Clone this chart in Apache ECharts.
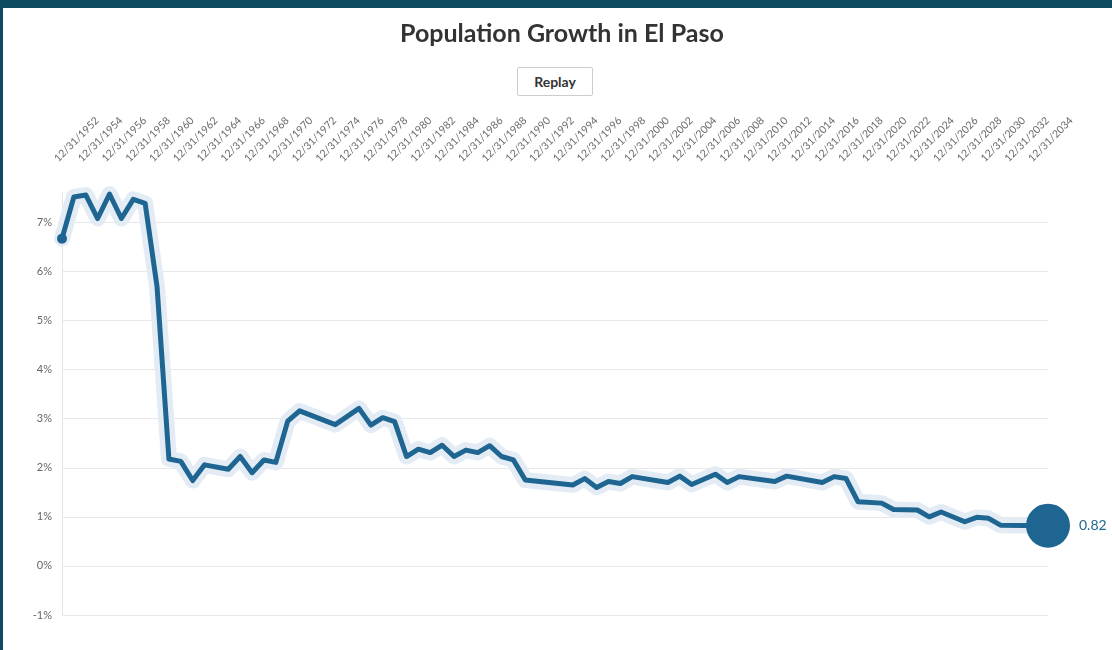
<!DOCTYPE html>
<html>
<head>
<meta charset="utf-8">
<script src="https://cdn.jsdelivr.net/npm/echarts@6/dist/echarts.min.js"></script>
<style>
  html, body { margin: 0; padding: 0; background: #ffffff; }
  #frame { position: absolute; left: 0; top: 0; width: 1112px; height: 650px; background: #fff; }
  #topbar { position: absolute; left: 0; top: 0; width: 1112px; height: 8px; background: #0f4a60; }
  #leftbar { position: absolute; left: 0; top: 0; width: 3px; height: 650px; background: #0f4a60; }
  #chart { position: absolute; left: 0; top: 0; width: 1112px; height: 650px; }
  #replay { position: absolute; left: 517px; top: 67px; width: 76px; height: 29px; box-sizing: border-box;
    border: 1px solid #cccccc; border-radius: 2px; background: #fff; color: #333;
    font-family: Lato, "Open Sans", sans-serif; font-weight: bold; font-size: 14px;
    display: flex; align-items: center; justify-content: center; z-index: 5; }
</style>
</head>
<body>
<div id="frame">
  <div id="chart"></div>
  <div id="topbar"></div>
  <div id="leftbar"></div>
  <div id="replay">Replay</div>
</div>
<script>
// Data (year, population growth %)
const years = [1952,1953,1954,1955,1956,1957,1958,1959,1960,1961,1962,1963,1964,1966,1967,1968,1969,1970,1971,1972,1975,1977,1978,1979,1980,1981,1982,1983,1984,1985,1986,1987,1988,1989,1990,1991,1995,1996,1997,1998,1999,2000,2003,2004,2005,2007,2008,2009,2012,2013,2016,2017,2018,2019,2021,2022,2024,2025,2026,2028,2029,2030,2031,2035];
const growth = [6.67,7.52,7.56,7.08,7.58,7.08,7.47,7.39,5.69,2.18,2.13,1.74,2.06,1.97,2.23,1.90,2.16,2.11,2.95,3.16,2.88,3.21,2.87,3.02,2.94,2.23,2.38,2.31,2.46,2.23,2.36,2.31,2.45,2.23,2.16,1.75,1.65,1.78,1.60,1.72,1.68,1.82,1.70,1.83,1.66,1.87,1.70,1.82,1.72,1.83,1.70,1.82,1.78,1.31,1.28,1.15,1.14,1.00,1.10,0.90,0.99,0.97,0.83,0.82];
const tickYears = [1952,1954,1956,1958,1960,1962,1964,1966,1968,1970,1972,1974,1976,1978,1980,1982,1984,1986,1988,1990,1992,1994,1996,1998,2000,2002,2004,2006,2008,2010,2012,2014,2016,2018,2020,2022,2024,2026,2028,2030,2032,2034];
const yTicks = [-1,0,1,2,3,4,5,6,7];
const titleText = 'Population Growth in El Paso';

const points = years.map((y, i) => [y, growth[i]]);
const lastIdx = points.length - 1;
const lineColor = '#1e6591';
const font = 'Lato, "Open Sans", sans-serif';

const chart = echarts.init(document.getElementById('chart'), null, { renderer: 'canvas' });
chart.setOption({
  animation: false,
  backgroundColor: 'transparent',
  graphic: [{
    type: 'text', left: 400, top: 21,
    style: { text: titleText, fill: '#333333', font: 'bold 25px ' + font }
  }],
  grid: [
    { left: 62, width: 986, top: 193, bottom: 35, containLabel: false },
    { left: 56, width: 986, top: 193, bottom: 35, containLabel: false }
  ],
  xAxis: [
    { type: 'value', gridIndex: 0, min: years[0], max: years[lastIdx], show: false },
    { type: 'value', gridIndex: 1, position: 'top', min: years[0], max: years[lastIdx], interval: 2,
      axisLine: { show: false }, axisTick: { show: false }, splitLine: { show: false },
      axisLabel: { rotate: 45, margin: 33, color: '#6a6a6a', fontSize: 10.5, fontFamily: font,
        formatter: v => tickYears.indexOf(v) >= 0 ? '12/31/' + v : '' } }
  ],
  yAxis: [
    { type: 'value', gridIndex: 0, min: yTicks[0], max: 7.6, interval: 1,
      axisLine: { show: true, lineStyle: { color: '#e3e3e3', width: 1 } },
      axisTick: { show: false },
      axisLabel: { color: '#666666', fontSize: 11, fontFamily: font, margin: 10, showMaxLabel: false,
        formatter: v => yTicks.indexOf(v) >= 0 ? v + '%' : '' },
      splitLine: { show: true, lineStyle: { color: ['#e8e8e8','#e8e8e8','#e8e8e8','#e8e8e8','#e8e8e8','#e8e8e8','#e8e8e8','#e8e8e8','#e8e8e8','rgba(0,0,0,0)'], width: 1 } } },
    { type: 'value', gridIndex: 1, min: yTicks[0], max: 7.6, show: false }
  ],
  series: [
    { type: 'line', xAxisIndex: 0, yAxisIndex: 0, data: points, symbol: 'none', silent: true,
      lineStyle: { color: '#e3ecf4', width: 16, cap: 'round', join: 'round' }, z: 1 },
    { type: 'line', xAxisIndex: 0, yAxisIndex: 0, data: points, symbol: 'circle', showSymbol: true,
      showAllSymbol: true,
      symbolSize: (val, p) => p.dataIndex === 0 ? 10 : (p.dataIndex === lastIdx ? 44 : 0),
      itemStyle: { color: lineColor, borderWidth: 0 },
      lineStyle: { color: lineColor, width: 5, cap: 'round', join: 'round' },
      label: { show: true, position: 'right', distance: 9, color: lineColor, fontSize: 14, fontFamily: font,
        formatter: p => p.dataIndex === lastIdx ? String(growth[lastIdx]) : '' },
      z: 3 }
  ]
});
</script>
</body>
</html>
